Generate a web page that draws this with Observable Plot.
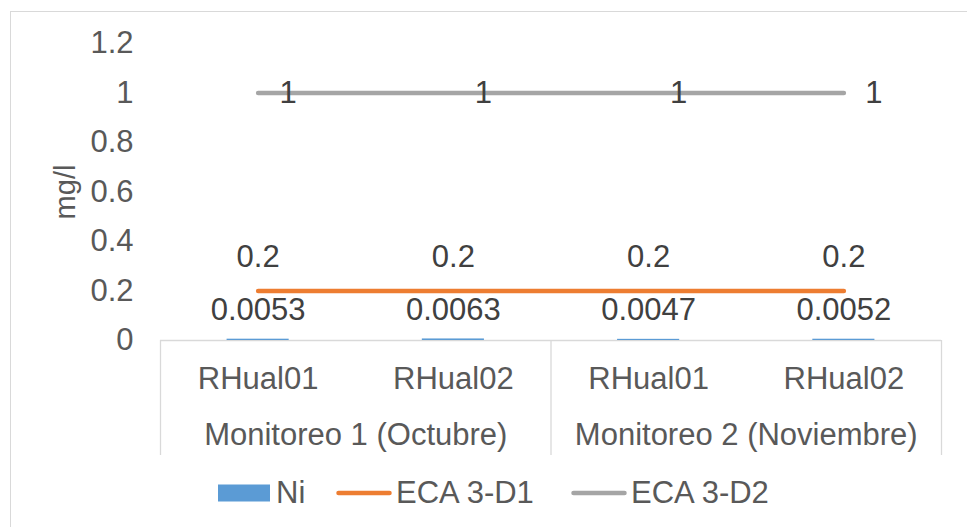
<!DOCTYPE html>
<html>
<head>
<meta charset="utf-8">
<script src="https://cdn.jsdelivr.net/npm/d3@7"></script>
<script src="https://cdn.jsdelivr.net/npm/@observablehq/plot@0.6"></script>
<style>
  html, body { margin: 0; padding: 0; background: #fff; }
  #chart {
    position: relative; width: 967px; height: 527px; overflow: hidden;
    font-family: "Liberation Sans", Arial, sans-serif;
  }
  #frame {
    position: absolute; left: 10px; top: 11px; width: 980px; height: 540px;
    border: 1px solid #d9d9d9; box-sizing: border-box;
  }
  #plot { position: absolute; left: 0; top: 0; }
  #legend {
    position: absolute; left: 0; top: 478px; width: 967px; height: 30px;
    font-size: 31px; color: #595959; white-space: nowrap;
  }
  #legend .item { position: absolute; top: 0; height: 30px; display: flex; align-items: center; }
  #legend svg { display: block; }
</style>
</head>
<body>
<div id="chart">
  <div id="frame"></div>
  <div id="plot"></div>
  <div id="legend"></div>
</div>
<script>
// Sampling points (level 1) and monitoring campaigns (level 2)
const stations = ["RHual01", "RHual02", "RHual01", "RHual02"];
const campaigns = ["Monitoreo 1 (Octubre)", "Monitoreo 2 (Noviembre)"];

// Series values, mg/l
const ni = [0.0053, 0.0063, 0.0047, 0.0052];
const eca3d1 = [0.2, 0.2, 0.2, 0.2];
const eca3d2 = [1, 1, 1, 1];

// Y axis ticks
const yTicks = [0, 0.2, 0.4, 0.6, 0.8, 1, 1.2];
const yTickLabels = ["0", "0.2", "0.4", "0.6", "0.8", "1", "1.2"];

const seriesNames = ["Ni", "ECA 3-D1", "ECA 3-D2"];
const seriesColors = ["#5B9BD5", "#ED7D31", "#A5A5A5"];

const labelColor = "#404040";
const axisColor = "#595959";
const gridColor = "#d9d9d9";
const fs = 31;

// Category positions on a continuous x: station i is centred at i + 0.5,
// campaign j spans [2j, 2j + 2]
const cx = (d, i) => i + 0.5;
const barHalf = 0.159;
const groupEdges = [0, 2, 4];

const plot = Plot.plot({
  width: 967,
  height: 470,
  marginLeft: 160,
  marginRight: 26,
  marginTop: 43,
  marginBottom: 130,
  style: { fontFamily: "'Liberation Sans', Arial, sans-serif", fontSize: fs + "px", color: axisColor, background: "transparent" },
  x: { domain: [0, 4], axis: null },
  y: { domain: [0, 1.2], axis: null },
  marks: [
    Plot.axisY(yTicks, {
      tickSize: 0, tickPadding: 27, label: null,
      tickFormat: (d) => yTickLabels[yTicks.indexOf(d)],
      fontSize: fs, fill: axisColor
    }),
    Plot.text(["mg/l"], { frameAnchor: "left", textAnchor: "middle", dx: -95, rotate: -90, fontSize: 29, fill: axisColor }),

    // category axis frame
    Plot.ruleY([0], { stroke: gridColor, strokeWidth: 1.3 }),
    Plot.ruleX(groupEdges, { x: d => d, y1: 0, y2: 0, insetBottom: -115, stroke: gridColor, strokeWidth: 1.3 }),
    Plot.text(stations, { x: cx, y: 0, dy: 39, text: d => d, fontSize: fs, fill: axisColor }),
    Plot.text(campaigns, { x: (d, i) => 2 * i + 1, y: 0, dy: 95, text: d => d, fontSize: fs, fill: axisColor }),

    // Ni bars
    Plot.rectY(ni, { x1: (d, i) => i + 0.5 - barHalf, x2: (d, i) => i + 0.5 + barHalf, y1: 0, y2: d => d, fill: seriesColors[0] }),
    Plot.text(ni, { x: cx, y: d => d, dy: -29, text: d => String(d), fontSize: fs, fill: labelColor }),

    // ECA 3-D1
    Plot.lineY(eca3d1, { x: cx, y: d => d, stroke: seriesColors[1], strokeWidth: 4.5, strokeLinecap: "round" }),
    Plot.text(eca3d1, { x: cx, y: d => d, dy: -34, text: d => String(d), fontSize: fs, fill: labelColor }),

    // ECA 3-D2
    Plot.lineY(eca3d2, { x: cx, y: d => d, stroke: seriesColors[2], strokeWidth: 4.5, strokeLinecap: "round" }),
    Plot.text(eca3d2, { x: cx, y: d => d, dx: 30, text: d => String(d), fontSize: fs, fill: labelColor })
  ]
});
document.getElementById("plot").appendChild(plot);

// Legend
const legendLeft = [218, 334, 569];
const legend = d3.select("#legend");
seriesNames.forEach((name, i) => {
  const item = legend.append("div").attr("class", "item").style("left", legendLeft[i] + "px");
  if (i === 0) {
    const sw = item.append("svg").attr("width", 52).attr("height", 20).style("margin-right", "6px");
    sw.append("rect").attr("x", 0).attr("y", 1.5).attr("width", 52).attr("height", 17).attr("fill", seriesColors[i]);
  } else {
    const sw = item.append("svg").attr("width", 60).attr("height", 20).style("margin-right", "2px");
    sw.append("line").attr("x1", 4.5).attr("x2", 55.5).attr("y1", 10).attr("y2", 10)
      .attr("stroke", seriesColors[i]).attr("stroke-width", 4.5).attr("stroke-linecap", "round");
  }
  item.append("span").text(name);
});
</script>
</body>
</html>
